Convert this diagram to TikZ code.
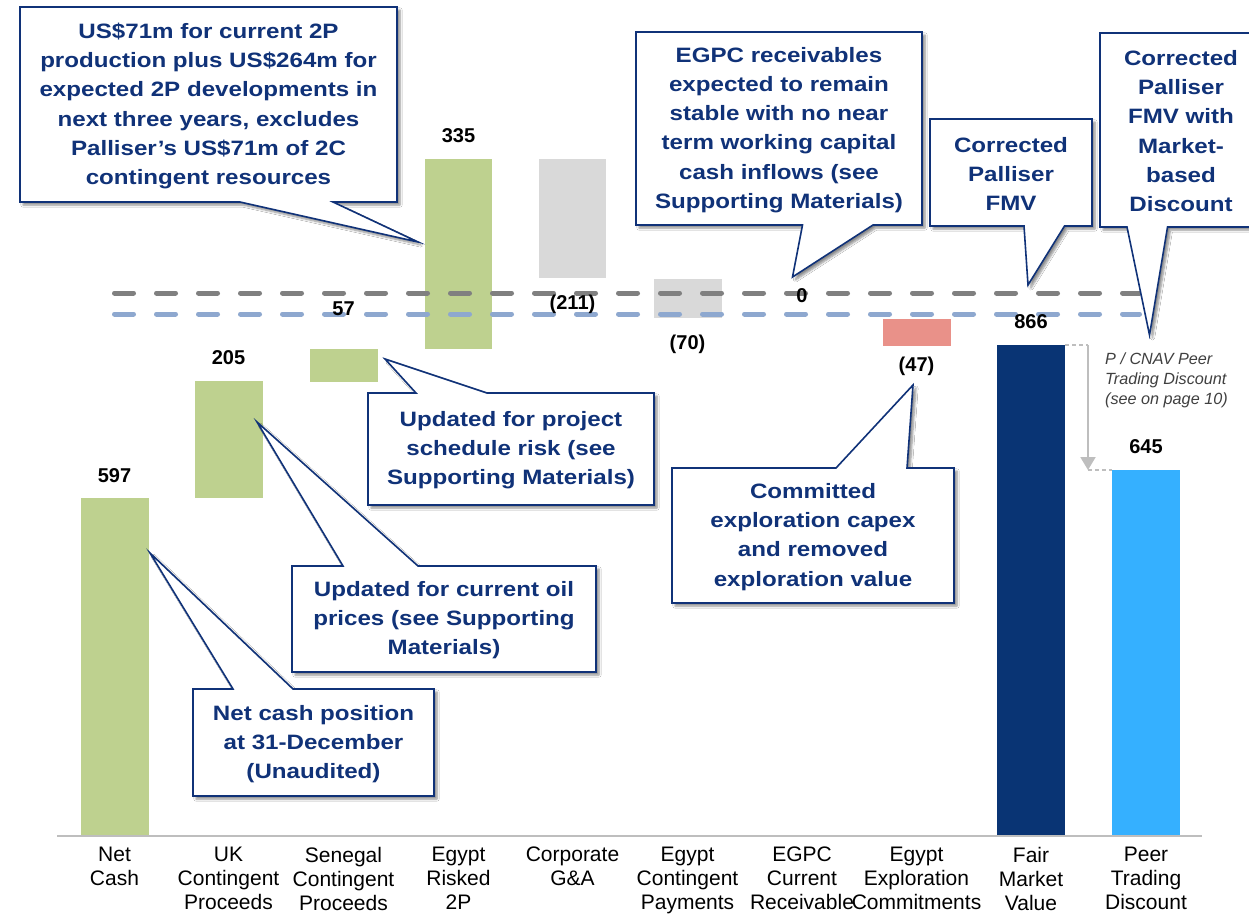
\documentclass[tikz,border=0pt]{standalone}
\usepackage{fontspec}
\setmainfont{Liberation Sans}
\newfontfamily\callfont[FakeStretch=1.16]{Liberation Sans}
\usetikzlibrary{arrows.meta,shadows.blur}
\definecolor{bargreen}{RGB}{190,209,143}
\definecolor{bargray}{RGB}{217,217,217}
\definecolor{barpink}{RGB}{233,145,137}
\definecolor{barnavy}{RGB}{9,52,116}
\definecolor{barblue}{RGB}{53,176,255}
\definecolor{callnavy}{RGB}{16,50,120}
\definecolor{dashgray}{RGB}{128,128,128}
\definecolor{dashblue}{RGB}{142,168,207}
\definecolor{arrgray}{RGB}{190,190,190}
\begin{document}
\begin{tikzpicture}[x=1pt,y=-1pt,
  callout/.style={draw=callnavy, line width=1.6pt, fill=white, line join=miter,
    blur shadow={shadow xshift=3pt, shadow yshift=-3pt, shadow blur steps=6, shadow opacity=45}},
  calltext/.style={font=\callfont\bfseries\fontsize{20.8}{29.2}\selectfont, text=callnavy, align=center, inner sep=0pt},
  catlabel/.style={font=\fontsize{21}{24}\selectfont, align=center, inner sep=0pt, anchor=north},
  numlabel/.style={font=\bfseries\fontsize{20}{24}\selectfont, inner sep=0pt, anchor=base},
  refline/.style={line width=5pt, line cap=round, dash pattern=on 19pt off 23pt}]
\useasboundingbox (0,0) rectangle (1249,914);
\begin{scope}
\clip (0,0) rectangle (1249,914);
\fill[white] (0,0) rectangle (1249,914);
% bars
\fill[bargreen] (81,498) rectangle (149,835);
\fill[bargreen] (195,381) rectangle (263,498);
\fill[bargreen] (310,349) rectangle (378,382);
\fill[bargreen] (425,159) rectangle (492,349);
\fill[bargray] (539,159) rectangle (606,278);
\fill[bargray] (654,279) rectangle (722,318);
\fill[barpink] (883,319) rectangle (951,346);
\fill[barnavy] (997,345) rectangle (1065,835);
\fill[barblue] (1112,470) rectangle (1180,835);
% axis
\draw[arrgray, line width=1.5pt] (57,836) -- (1202,836);
% reference dashed lines
\draw[refline, dashgray] (114.5,293) -- (1139.5,293);
\draw[refline, dashblue] (114.5,314) -- (1139.5,314);
% discount arrow
\coordinate (fmvtop) at (1065,345);
\coordinate (arrtop) at (1088,345);
\coordinate (arrbot) at (1088,470);
\coordinate (peertop) at (1112,470);
\draw[arrgray, line width=1.2pt, dash pattern=on 4pt off 3pt] (fmvtop) -- (arrtop);
\draw[arrgray, line width=1.2pt, dash pattern=on 4pt off 3pt] (arrbot) -- (peertop);
\draw[arrgray, line width=2pt, -{Triangle[width=15pt,length=13pt]}] (arrtop) -- (arrbot);
\node[font=\itshape\fontsize{16.2}{20}\selectfont, text={rgb,255:red,64;green,64;blue,64}, align=left, anchor=north west, inner sep=0pt] (disc) at (1105,353) {P / CNAV Peer\\Trading Discount\\(see on page 10)};
% value labels
\node[numlabel] (v1) at (114.5,482) {597};
\node[numlabel] (v2) at (228.5,364) {205};
\node[numlabel] (v3) at (343.5,315) {57};
\node[numlabel] (v4) at (458.5,142) {335};
\node[numlabel] (v5) at (572.5,309) {(211)};
\node[numlabel] (v6) at (687.5,349) {(70)};
\node[numlabel] (v7) at (802,302) {0};
\node[numlabel] (v8) at (916.5,371) {(47)};
\node[numlabel] (v9) at (1031,328) {866};
\node[numlabel] (v10) at (1146,453) {645};
% category labels
\node[catlabel] (l1) at (114.5,847) {Net\\Cash};
\node[catlabel] (l2) at (228.5,847) {UK\\Contingent\\Proceeds};
\node[catlabel] (l3) at (343.5,847) {Senegal\\Contingent\\Proceeds};
\node[catlabel] (l4) at (458.5,847) {Egypt\\Risked\\2P};
\node[catlabel] (l5) at (572.5,847) {Corporate\\G\&A};
\node[catlabel] (l6) at (687.5,847) {Egypt\\Contingent\\Payments};
\node[catlabel] (l7) at (802,847) {EGPC\\Current\\Receivable};
\node[catlabel] (l8) at (916.5,847) {Egypt\\Exploration\\Commitments};
\node[catlabel] (l9) at (1031,847) {Fair\\Market\\Value};
\node[catlabel] (l10) at (1146,847) {Peer\\Trading\\Discount};
% callouts
\draw[callout] (20,7) -- (397,7) -- (397,202) -- (333,202) -- (418,242) -- (240,202) -- (20,202) -- cycle;
\node[calltext] (c1) at (208.5,106) {US\$71m for current 2P\\production plus US\$264m for\\expected 2P developments in\\next three years, excludes\\Palliser’s US\$71m of 2C\\contingent resources};
\draw[callout] (636,32) -- (922,32) -- (922,225) -- (873,225) -- (792.5,277) -- (802.5,225) -- (636,225) -- cycle;
\node[calltext] (c2) at (779,130) {EGPC receivables\\expected to remain\\stable with no near\\term working capital\\cash inflows (see\\Supporting Materials)};
\draw[callout] (930,119) -- (1092,119) -- (1092,226) -- (1064.5,226) -- (1028,285) -- (1024,226) -- (930,226) -- cycle;
\node[calltext] (c3) at (1011,174) {Corrected\\Palliser\\FMV};
\draw[callout] (1100,33) -- (1262,33) -- (1262,227) -- (1167.5,227) -- (1149.5,335) -- (1127,227) -- (1100,227) -- cycle;
\node[calltext] (c4) at (1181,131) {Corrected\\Palliser\\FMV with\\Market-\\based\\Discount};
\draw[callout] (368,393) -- (416,393) -- (385,359) -- (487,393) -- (654,393) -- (654,505) -- (368,505) -- cycle;
\node[calltext] (c5) at (511,450) {Updated for project\\schedule risk (see\\Supporting Materials)};
\draw[callout] (292,566) -- (343,566) -- (257,422) -- (418,566) -- (596,566) -- (596,672) -- (292,672) -- cycle;
\node[calltext] (c6) at (444,620) {Updated for current oil\\prices (see Supporting\\Materials)};
\draw[callout] (193,689) -- (233,689) -- (150,553) -- (293,689) -- (434,689) -- (434,796) -- (193,796) -- cycle;
\node[calltext] (c7) at (313.5,744) {Net cash position\\at 31-December\\(Unaudited)};
\draw[callout] (672,468) -- (836,468) -- (913,385) -- (907,468) -- (954,468) -- (954,603) -- (672,603) -- cycle;
\node[calltext] (c8) at (813,537) {Committed\\exploration capex\\and removed\\exploration value};
\end{scope}
\end{tikzpicture}
\end{document}
